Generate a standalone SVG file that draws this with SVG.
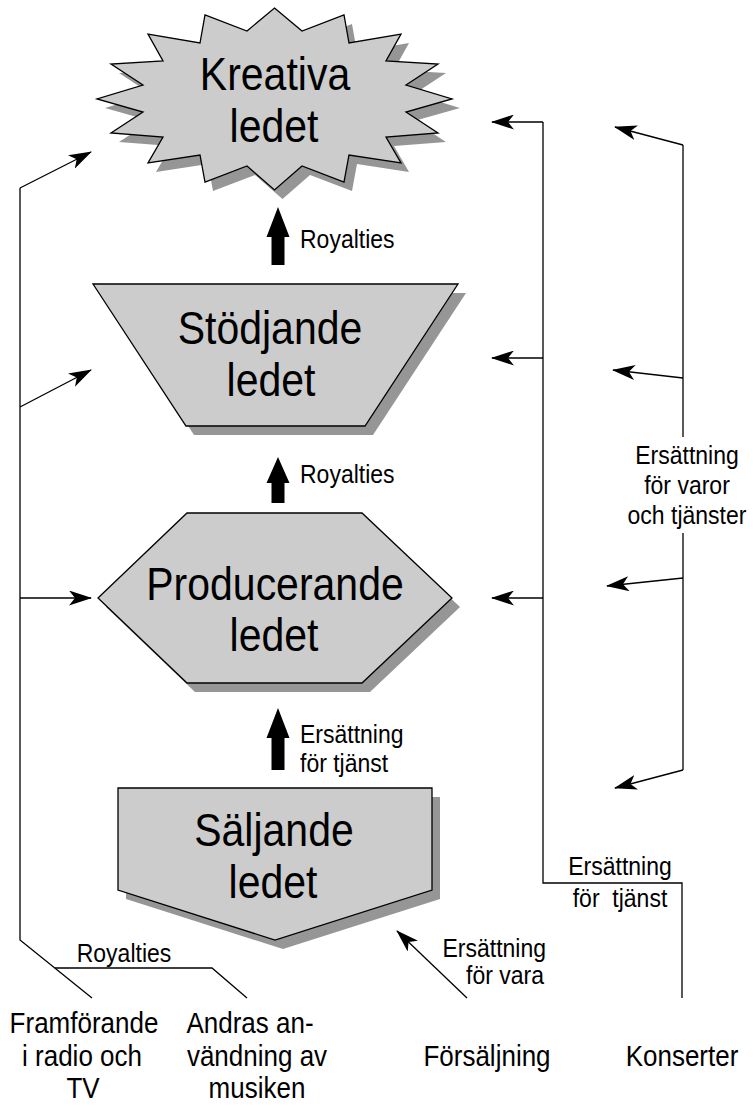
<svg xmlns="http://www.w3.org/2000/svg" width="753" height="1106" viewBox="0 0 753 1106">
<style>
.shape{fill:#cccccc;stroke:#000;stroke-width:1.3;stroke-linejoin:miter}
.shadow{fill:#969696;stroke:none}
.title{font-family:"Liberation Sans",Arial,sans-serif;font-size:41px;fill:#000;text-anchor:middle}
.lbl{font-family:"Liberation Sans",Arial,sans-serif;font-size:23px;fill:#000}
.big{font-family:"Liberation Sans",Arial,sans-serif;font-size:26px;fill:#000;text-anchor:middle}
.ln{fill:none;stroke:#000;stroke-width:1.3}
.arr{fill:none;stroke:#000;stroke-width:1.3;marker-end:url(#ah)}
.block{fill:#000;stroke:none}
</style>
<defs>
<marker id="ah" markerUnits="userSpaceOnUse" markerWidth="23" markerHeight="15" refX="22" refY="7.5" orient="auto" viewBox="0 0 23 15">
<path d="M0,0 L23,7.5 L0,15 L6,7.5 z" fill="#000"/>
</marker>
</defs>

<g id="kreativa">
<polygon class="shadow" transform="translate(8,9)" points="274.5,8 302,31 344,15 349,43 401,34 386,61 438,64 406,85 452,99 406,112 438,133 386,137 401,163 349,155 344,182 302,166 274.5,190 247,166 205,182 200,155 148,163 163,137 111,133 143,112 97,99 143,85 111,64 163,61 148,34 200,43 205,15 247,31"/>
<polygon class="shape" points="274.5,8 302,31 344,15 349,43 401,34 386,61 438,64 406,85 452,99 406,112 438,133 386,137 401,163 349,155 344,182 302,166 274.5,190 247,166 205,182 200,155 148,163 163,137 111,133 143,112 97,99 143,85 111,64 163,61 148,34 200,43 205,15 247,31"/>
<text class="title" transform="translate(275,90) scale(1,1.12)">Kreativa</text>
<text class="title" transform="translate(274,142) scale(1,1.12)">ledet</text>
</g>

<g id="stodjande">
<polygon class="shadow" transform="translate(8,9)" points="93,284 458,284 365,426 186,426"/>
<polygon class="shape" points="93,284 458,284 365,426 186,426"/>
<text class="title" transform="translate(270,344) scale(1,1.12)">Stödjande</text>
<text class="title" transform="translate(271,396) scale(1,1.12)">ledet</text>
</g>

<g id="producerande">
<polygon class="shadow" transform="translate(8,9)" points="98,598 187,513 362,513 452,598 362,683 187,683"/>
<polygon class="shape" points="98,598 187,513 362,513 452,598 362,683 187,683"/>
<text class="title" transform="translate(275,600) scale(1,1.12)">Producerande</text>
<text class="title" transform="translate(274,651) scale(1,1.12)">ledet</text>
</g>

<g id="saljande">
<polygon class="shadow" transform="translate(8,9)" points="118,788 432,788 432,890 275,940 118,890"/>
<polygon class="shape" points="118,788 432,788 432,890 275,940 118,890"/>
<text class="title" transform="translate(274,846) scale(1,1.12)">Säljande</text>
<text class="title" transform="translate(273,898) scale(1,1.12)">ledet</text>
</g>

<g id="block-arrows">
<polygon class="block" points="278,207 289.5,237 284.5,237 284.5,265 271.5,265 271.5,237 266.5,237"/>
<polygon class="block" points="278,457 289.5,483 284.5,483 284.5,503 271.5,503 271.5,483 266.5,483"/>
<polygon class="block" points="278,708 289.5,738 284.5,738 284.5,770 271.5,770 271.5,738 266.5,738"/>
</g>

<g id="connectors">
<polyline class="ln" points="92,998 20,940 20,188"/>
<line class="arr" x1="20" y1="188" x2="91" y2="152"/>
<line class="arr" x1="20" y1="407" x2="91" y2="370"/>
<line class="arr" x1="20" y1="598" x2="91" y2="598"/>
<polyline class="ln" points="55,968 212,968 247,998"/>

<polyline class="ln" points="543,122 543,883 682,883 682,998"/>
<line class="arr" x1="543" y1="122" x2="492" y2="122"/>
<line class="arr" x1="543" y1="358" x2="492" y2="358"/>
<line class="arr" x1="543" y1="598" x2="492" y2="598"/>

<line class="ln" x1="683" y1="145" x2="683" y2="437"/>
<line class="ln" x1="683" y1="533" x2="683" y2="770"/>
<line class="arr" x1="683" y1="145" x2="615" y2="127"/>
<line class="arr" x1="683" y1="378" x2="613" y2="370"/>
<line class="arr" x1="683" y1="578" x2="607" y2="586"/>
<line class="arr" x1="683" y1="770" x2="615" y2="788"/>

<line class="arr" x1="467" y1="998" x2="397" y2="931"/>
</g>

<g id="labels">
<text class="lbl" transform="translate(300,248) scale(1,1.12)">Royalties</text>
<text class="lbl" transform="translate(300,483) scale(1,1.12)">Royalties</text>
<text class="lbl" transform="translate(300,743) scale(1,1.12)">Ersättning</text>
<text class="lbl" transform="translate(300,772) scale(1,1.12)">för tjänst</text>
<text class="lbl" text-anchor="middle" transform="translate(687,464) scale(1,1.12)">Ersättning</text>
<text class="lbl" text-anchor="middle" transform="translate(687,494) scale(1,1.12)">för varor</text>
<text class="lbl" text-anchor="middle" transform="translate(687,524) scale(1,1.12)">och tjänster</text>
<text class="lbl" text-anchor="middle" transform="translate(620,875) scale(1,1.12)">Ersättning</text>
<text class="lbl" text-anchor="middle" style="white-space:pre" transform="translate(620,907) scale(1,1.12)">för  tjänst</text>
<text class="lbl" text-anchor="end" transform="translate(546,957) scale(1,1.12)">Ersättning</text>
<text class="lbl" text-anchor="end" transform="translate(544,984) scale(1,1.12)">för vara</text>
<text class="lbl" text-anchor="middle" transform="translate(124,962) scale(1,1.12)">Royalties</text>
</g>

<g id="sources">
<text class="big" transform="translate(84,1033) scale(1,1.12)">Framförande</text>
<text class="big" transform="translate(82,1066) scale(1,1.12)">i radio och</text>
<text class="big" transform="translate(83,1098) scale(1,1.12)">TV</text>
<text class="big" transform="translate(250,1033) scale(1,1.12)">Andras an-</text>
<text class="big" transform="translate(257,1066) scale(1,1.12)">vändning av</text>
<text class="big" transform="translate(257,1098) scale(1,1.12)">musiken</text>
<text class="big" transform="translate(487,1066) scale(1,1.12)">Försäljning</text>
<text class="big" transform="translate(682,1066) scale(1,1.12)">Konserter</text>
</g>
</svg>
